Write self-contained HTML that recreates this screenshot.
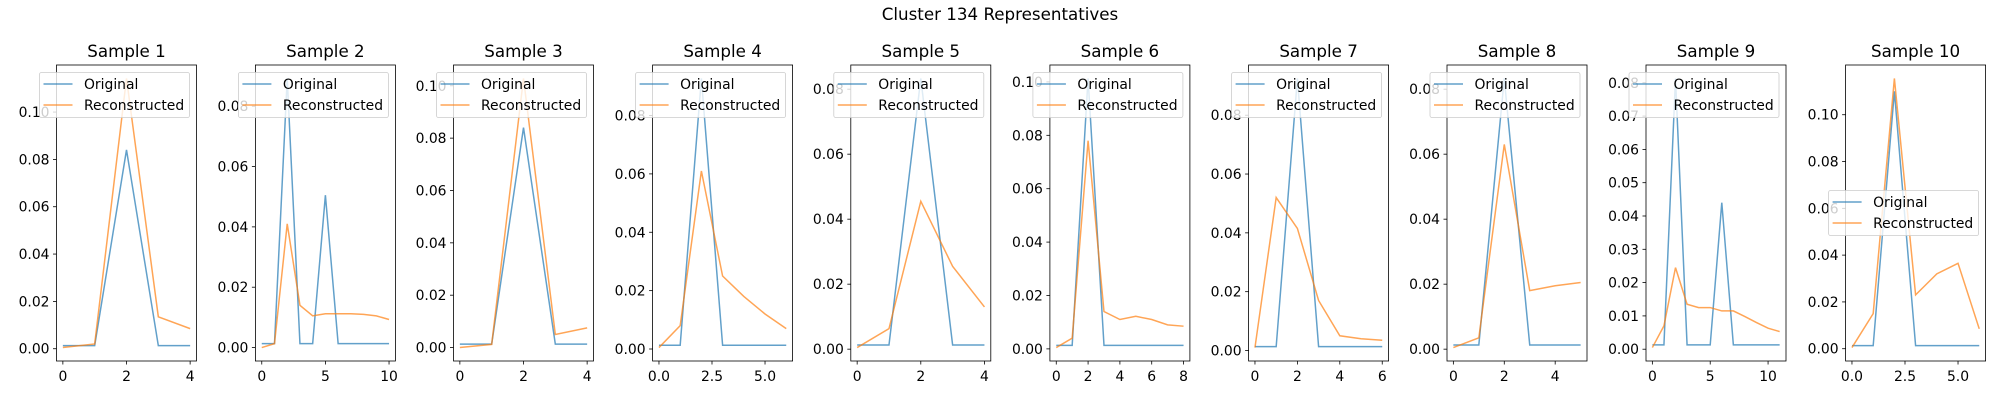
<!DOCTYPE html>
<html><head><meta charset="utf-8"><title>Cluster 134 Representatives</title>
<style>
html,body{margin:0;padding:0;background:#fff;}
svg{display:block;font-family:"DejaVu Sans","Liberation Sans",sans-serif;}
</style></head>
<body>
<svg id="chart" width="2000" height="400" viewBox="0 0 2000 400" xmlns="http://www.w3.org/2000/svg">
<rect width="2000" height="400" fill="#fff"/>
<text x="1000" y="20" font-size="16.7" text-anchor="middle">Cluster 134 Representatives</text>
</svg>
<script>
const sampleTitles = ["Sample 1","Sample 2","Sample 3","Sample 4","Sample 5","Sample 6","Sample 7","Sample 8","Sample 9","Sample 10"];
const original1 = [0.0013,0.0013,0.084,0.0013,0.0013];
const recon1 = [0.0005,0.002,0.1142,0.0135,0.0085];
const original2 = [0.0013,0.0013,0.0892,0.0013,0.0013,0.0505,0.0013,0.0013,0.0013,0.0013,0.0013];
const recon2 = [0,0.0013,0.041,0.014,0.0105,0.0112,0.0112,0.0112,0.011,0.0105,0.0093];
const original3 = [0.0013,0.0013,0.084,0.0013,0.0013];
const recon3 = [0,0.0012,0.1028,0.005,0.0075];
const original4 = [0.0013,0.0013,0.0927,0.0013,0.0013,0.0013,0.0013];
const recon4 = [0.0005,0.008,0.061,0.025,0.018,0.012,0.007];
const original5 = [0.0013,0.0013,0.0833,0.0013,0.0013];
const recon5 = [0.0005,0.0063,0.0455,0.0255,0.013];
const original6 = [0.0013,0.0013,0.1013,0.0013,0.0013,0.0013,0.0013,0.0013,0.0013];
const recon6 = [0.0005,0.004,0.078,0.014,0.011,0.0122,0.011,0.009,0.0085];
const original7 = [0.0013,0.0013,0.0925,0.0013,0.0013,0.0013,0.0013];
const recon7 = [0.001,0.052,0.0415,0.017,0.005,0.004,0.0035];
const original8 = [0.0013,0.0013,0.0833,0.0013,0.0013,0.0013];
const recon8 = [0.0005,0.0035,0.063,0.018,0.0195,0.0205];
const original9 = [0.0013,0.0013,0.0813,0.0013,0.0013,0.0013,0.044,0.0013,0.0013,0.0013,0.0013,0.0013];
const recon9 = [0.0005,0.007,0.0245,0.0135,0.0125,0.0125,0.0115,0.0115,0.0098,0.008,0.0063,0.0053];
const original10 = [0.0013,0.0013,0.11,0.0013,0.0013,0.0013,0.0013];
const recon10 = [0.0005,0.015,0.1155,0.023,0.032,0.0365,0.0085];
const originals = [original1,original2,original3,original4,original5,original6,original7,original8,original9,original10];
const recons = [recon1,recon2,recon3,recon4,recon5,recon6,recon7,recon8,recon9,recon10];
const xTicks = [[0,2,4],[0,5,10],[0,2,4],[0,2.5,5],[0,2,4],[0,2,4,6,8],[0,2,4,6],[0,2,4],[0,5,10],[0,2.5,5]];
const xTickLabels = [["0","2","4"],["0","5","10"],["0","2","4"],["0.0","2.5","5.0"],["0","2","4"],["0","2","4","6","8"],["0","2","4","6"],["0","2","4"],["0","5","10"],["0.0","2.5","5.0"]];
const yTickStep = [0.02,0.02,0.02,0.02,0.02,0.02,0.02,0.02,0.01,0.02];
const yTickMax = [0.10,0.08,0.10,0.08,0.08,0.10,0.08,0.08,0.08,0.10];
const yTickDecimals = [2,2,2,2,2,2,2,2,2,2];

const NS = "http://www.w3.org/2000/svg";
const svg = document.getElementById('chart');
const panelLeft = [56.5,255.4,453.5,652.6,850.8,1049.9,1248.6,1447,1646,1845.6];
const PW = 140, TOP = 65, BOT = 361;
function mk(tag, attrs, parent){
  const e = document.createElementNS(NS, tag);
  for (const k in attrs) e.setAttribute(k, attrs[k]);
  (parent||svg).appendChild(e);
  return e;
}
for (let p = 0; p < 10; p++) {
  const L = panelLeft[p], R = L + PW;
  const o = originals[p], r = recons[p];
  const n = o.length;
  const all = o.concat(r);
  const mn = Math.min(...all), mx = Math.max(...all);
  const sp = mx - mn;
  const y0 = mn - 0.05*sp, y1 = mx + 0.05*sp;
  const x0 = -0.05*(n-1), x1 = (n-1)*1.05;
  const sx = v => L + (v - x0)/(x1 - x0)*PW;
  const sy = v => BOT - (v - y0)/(y1 - y0)*(BOT-TOP);
  const g = mk('g', {});
  
  
  const title = mk('text', {x:(L+R)/2, y:57, 'font-size':16.7, 'text-anchor':'middle'}, g);
  title.textContent = sampleTitles[p];
  
  
  // y ticks
  for (let k = 0; k <= Math.round(yTickMax[p]/yTickStep[p]); k++) {
    const v = k*yTickStep[p];
    const yy = sy(v);
    const tl = mk('line', {x1:L-3.5, x2:L, y1:yy, y2:yy, stroke:'#000', 'stroke-width':0.8}, g);
    
    
    const tt = mk('text', {x:L-7, y:yy+5, 'font-size':13.9, 'text-anchor':'end'}, g);
    tt.textContent = v.toFixed(yTickDecimals[p]);
    
    
  }
  // x ticks
  xTicks[p].forEach((v, i) => {
    const xx = sx(v);
    const tl = mk('line', {x1:xx, x2:xx, y1:BOT, y2:BOT+3.5, stroke:'#000', 'stroke-width':0.8}, g);
    
    
    const tt = mk('text', {x:xx, y:BOT+20, 'font-size':13.9, 'text-anchor':'middle'}, g);
    tt.textContent = xTickLabels[p][i];
    
    
  });
  const clip = mk('clipPath', {id:'c'+p}, g);
  mk('rect', {x:L, y:TOP, width:PW, height:BOT-TOP}, clip);
  const ptsO = o.map((v,i)=>sx(i).toFixed(2)+','+sy(v).toFixed(2)).join(' ');
  const ptsR = r.map((v,i)=>sx(i).toFixed(2)+','+sy(v).toFixed(2)).join(' ');
  const lo = mk('polyline', {points:ptsO, fill:'none', stroke:'#1f77b4', 'stroke-opacity':0.7, 'stroke-width':1.5, 'clip-path':'url(#c'+p+')'}, g);
  
  
  const lr = mk('polyline', {points:ptsR, fill:'none', stroke:'#ff7f0e', 'stroke-opacity':0.7, 'stroke-width':1.5, 'clip-path':'url(#c'+p+')'}, g);
  
  
  const frame = mk('rect', {x:L, y:TOP, width:PW, height:BOT-TOP, fill:'none', stroke:'#000', 'stroke-width':0.8}, g);
  
  
  // legend
  const LW = 150, LH = 45;
  const lx = R - 7 - LW;
  const ly = (p === 9) ? (TOP+BOT)/2 - LH/2 : TOP + 7.5;
  const lg = mk('g', {}, g);
  
  
  mk('rect', {x:lx, y:ly, width:LW, height:LH, rx:2, fill:'#fff', 'fill-opacity':0.8, stroke:'#ccc', 'stroke-width':0.8}, lg);
  [['Original','#1f77b4'],['Reconstructed','#ff7f0e']].forEach((it, i) => {
    const yy = ly + 11.5 + i*21;
    mk('line', {x1:lx+4, x2:lx+33, y1:yy, y2:yy, stroke:it[1], 'stroke-opacity':0.7, 'stroke-width':1.5}, lg);
    const t = mk('text', {x:lx+44.5, y:yy+5, 'font-size':13.9}, lg);
    t.textContent = it[0];
    
    
  });
}
</script>
</body></html>
